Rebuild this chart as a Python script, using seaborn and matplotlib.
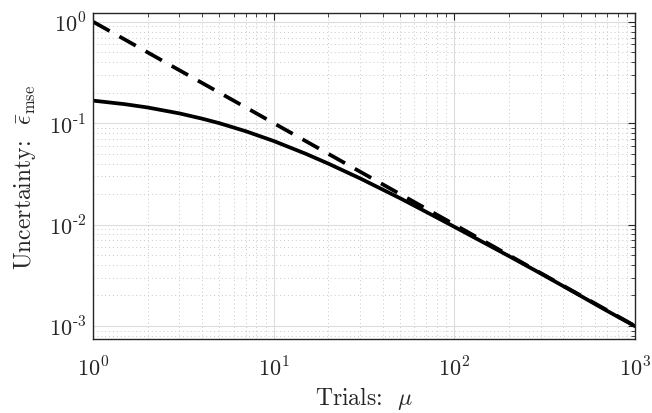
import matplotlib
matplotlib.use('Agg')
import matplotlib.pyplot as plt
import pandas as pd
import seaborn as sns

# trials and uncertainty values
trials = [1, 1.5, 2, 3, 4, 5, 7, 10, 15, 20, 30, 50, 70, 100, 150, 200, 300, 500, 700, 1000]
mse_actual = [0.167, 0.154, 0.143, 0.125, 0.111, 0.100, 0.0833, 0.0667, 0.050, 0.040,
              0.0286, 0.0182, 0.0133, 0.0095, 0.00645, 0.0049, 0.0033, 0.00198, 0.00141, 0.000995]
mse_bound = [1.0, 0.667, 0.5, 0.333, 0.25, 0.2, 0.143, 0.1, 0.0667, 0.05,
             0.0333, 0.02, 0.0143, 0.01, 0.00667, 0.005, 0.00333, 0.002, 0.00143, 0.001]

df = pd.DataFrame({'mu': trials, 'actual': mse_actual, 'bound': mse_bound})

sns.set_style('white')
plt.rcParams['font.family'] = ['serif']
plt.rcParams['font.serif'] = ['cmr10', 'DejaVu Serif']
plt.rcParams['mathtext.fontset'] = 'cm'
plt.rcParams['axes.formatter.use_mathtext'] = True

fig, ax = plt.subplots(figsize=(6.52, 4.14), dpi=100)
fig.subplots_adjust(left=0.143, right=0.974, top=0.966, bottom=0.179)

sns.lineplot(data=df, x='mu', y='bound', ax=ax, color='black', lw=2.7,
             dashes=False, linestyle=(0, (5, 3)))
sns.lineplot(data=df, x='mu', y='actual', ax=ax, color='black', lw=2.7)

ax.set_xscale('log')
ax.set_yscale('log')
ax.set_xlim(1, 1000)
ax.set_ylim(7.46e-4, 1.22)

ax.set_xticks([1, 10, 100, 1000])
ax.set_xticklabels([r'$10^{0}$', r'$10^{1}$', r'$10^{2}$', r'$10^{3}$'])
ax.set_yticks([1e-3, 1e-2, 1e-1, 1])
ax.set_yticklabels([r'$10^{\text{-}3}$', r'$10^{\text{-}2}$', r'$10^{\text{-}1}$', r'$10^{0}$'])

ax.grid(True, which='major', color='#dcdcdc', lw=0.8, ls='-')
ax.grid(True, which='minor', color='#c8c8c8', lw=0.7, ls=(0, (1, 3)))
ax.set_axisbelow(True)

ax.tick_params(which='both', direction='in', top=True, right=True, labelsize=16,
               color='#262626')
ax.tick_params(which='major', length=5)
ax.tick_params(which='minor', length=3)
ax.tick_params(axis='x', pad=12)
ax.tick_params(axis='y', pad=5)
for s in ax.spines.values():
    s.set_color('#262626')
    s.set_linewidth(1.0)

ax.set_xlabel(r'Trials:  $\mu$', fontsize=17, labelpad=3)
ax.set_ylabel(r'Uncertainty:  $\bar{\epsilon}_{\mathrm{mse}}$', fontsize=17, labelpad=8)

fig.savefig('out.png', dpi=100)
